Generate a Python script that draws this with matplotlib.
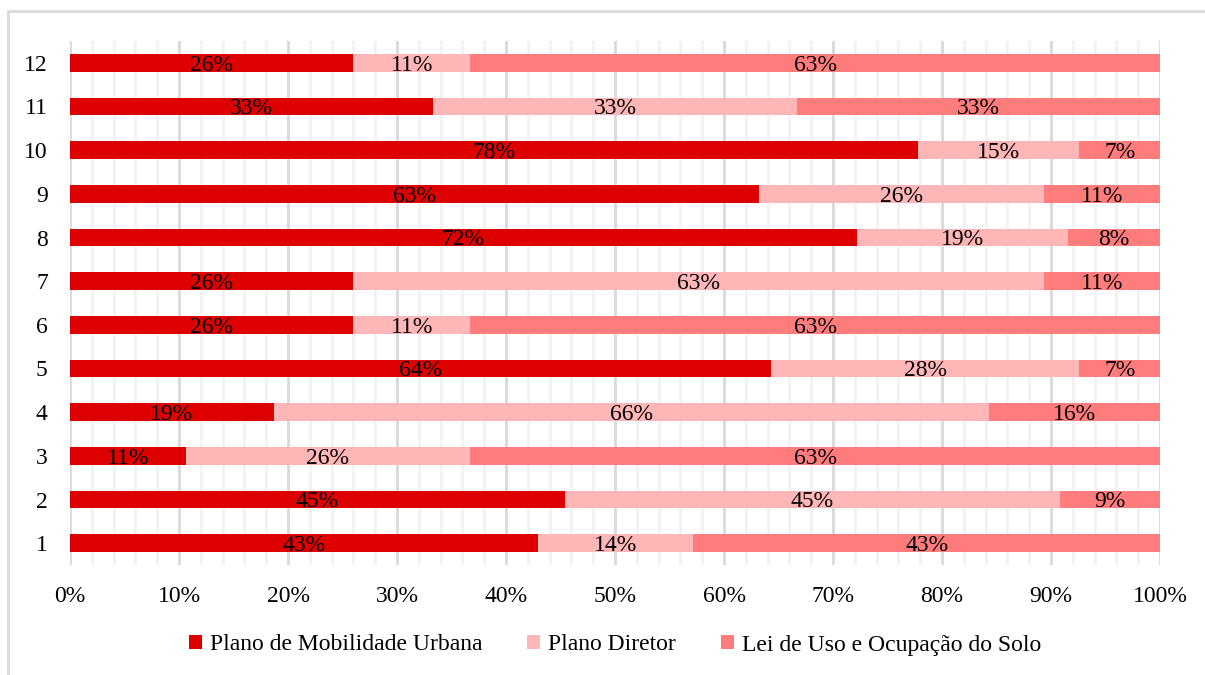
import numpy as np
import matplotlib.pyplot as plt
from matplotlib.patches import Rectangle
from matplotlib.ticker import MultipleLocator, PercentFormatter

plt.rcParams['font.family'] = ['Liberation Serif', 'DejaVu Serif']

categories = ['1', '2', '3', '4', '5', '6', '7', '8', '9', '10', '11', '12']
series_names = ['Plano de Mobilidade Urbana', 'Plano Diretor', 'Lei de Uso e Ocupação do Solo']
mobilidade = [42.9, 45.4, 10.6, 18.7, 64.3, 26.0, 26.0, 72.2, 63.2, 77.8, 33.3, 26.0]
diretor = [14.3, 45.4, 26.1, 65.6, 28.3, 10.7, 63.4, 19.4, 26.2, 14.8, 33.4, 10.7]
uso_solo = [42.8, 9.2, 63.3, 15.7, 7.4, 63.3, 10.6, 8.4, 10.6, 7.4, 33.3, 63.3]
colors = ['#DE0000', '#FFB6B6', '#FF7C7C']

fig = plt.figure(figsize=(12.05, 6.75), dpi=100)
ax = fig.add_axes([70 / 1205, 1 - 565 / 675, 1090 / 1205, 524 / 675])

# outer chart frame (light gray)
fig.patches.append(Rectangle((8 / 1205, -0.1), 1.2, 1 - 11 / 675 + 0.1, transform=fig.transFigure,
                             fill=False, edgecolor='#D9D9D9', linewidth=2, zorder=0))

y = np.arange(1, len(categories) + 1)
left = np.zeros(len(categories))
for vals, name, col in zip([mobilidade, diretor, uso_solo], series_names, colors):
    vals = np.array(vals)
    bars = ax.barh(y, vals, left=left, height=0.41, color=col, label=name, zorder=3)
    for rect, v in zip(bars, vals):
        ax.text(rect.get_x() + rect.get_width() / 2, rect.get_y() + rect.get_height() / 2 - 0.05,
                f'{v:.0f}%', ha='center', va='center', fontsize=17, color='black', zorder=4)
    left += vals

ax.set_xlim(0, 100)
ax.set_ylim(0.5, 12.5)
ax.set_yticks(y)
ax.set_yticklabels(categories)
ax.xaxis.set_major_locator(MultipleLocator(10))
ax.xaxis.set_minor_locator(MultipleLocator(2))
ax.xaxis.set_major_formatter(PercentFormatter(decimals=0))
ax.grid(axis='x', which='major', color='#D9D9D9', linewidth=2, zorder=0)
ax.grid(axis='x', which='minor', color='#F2F2F2', linewidth=2, zorder=0)
ax.set_axisbelow(True)
for s in ax.spines.values():
    s.set_visible(False)
ax.tick_params(axis='both', which='both', length=0, labelsize=17)
ax.tick_params(axis='y', pad=16)
ax.tick_params(axis='x', pad=15)

fig.legend(loc='center', bbox_to_anchor=(615 / 1205, 1 - 645 / 675), ncol=3, frameon=False,
           fontsize=17, handlelength=0.55, handleheight=0.55, handletextpad=0.35, columnspacing=1.9)

fig.savefig('out.png', dpi=100, facecolor='white')
